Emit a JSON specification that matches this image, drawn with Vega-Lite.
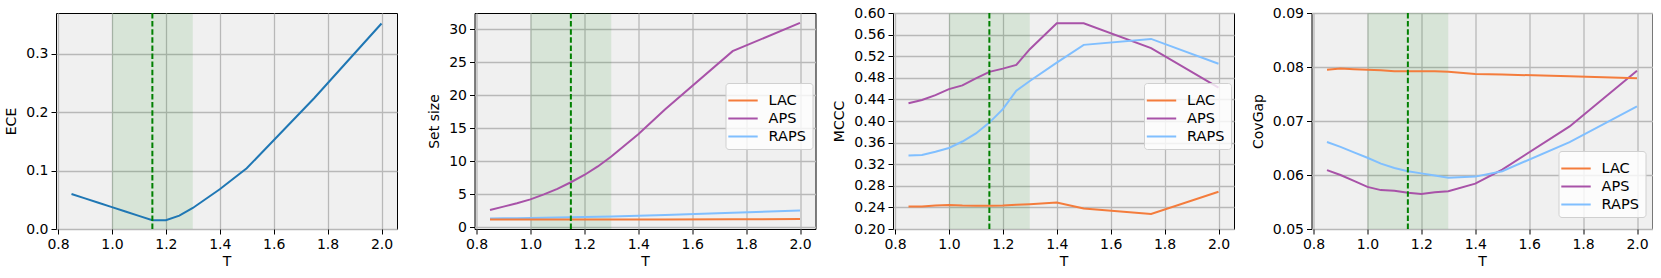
{
  "$schema": "https://vega.github.io/schema/vega-lite/v6.json",
  "padding": {"left": 4, "top": 5, "right": 0, "bottom": 0},
  "background": "white",
  "bounds": "flush",
  "spacing": 77.5,
  "config": {
    "font": "DejaVu Sans",
    "view": {"fill": "#f0f0f0", "stroke": "black", "strokeWidth": 1},
    "axis": {
      "labelFont": "DejaVu Sans", "titleFont": "DejaVu Sans",
      "labelFontSize": 14, "titleFontSize": 14, "titleFontWeight": "normal",
      "labelColor": "black", "titleColor": "black",
      "tickColor": "black", "tickSize": 5, "tickWidth": 1,
      "domainColor": "black", "domainWidth": 1,
      "gridColor": "#b8b8b8", "gridWidth": 1.3,
      "labelPadding": 3
    },
    "axisX": {"titlePadding": 3},
    "axisY": {"titlePadding": 7},
    "legend": {
      "orient": "none", "title": null,
      "labelFont": "DejaVu Sans", "labelFontSize": 14.5, "labelColor": "black",
      "fillColor": "rgba(255,255,255,0.8)", "strokeColor": "#d0d0d0", "cornerRadius": 3,
      "padding": 6, "symbolType": "M-1.4,0H1.4", "symbolSize": 441, "symbolStrokeWidth": 2,
      "labelOffset": 14, "rowPadding": 0
    }
  },
  "datasets": {
    "band": [{"x1": 1.0, "x2": 1.3}],
    "opt": [{"T": 1.15}],
    "ece": [
      {"T": 0.85, "value": 0.060}, {"T": 0.9, "value": 0.0525}, {"T": 0.95, "value": 0.045},
      {"T": 1.0, "value": 0.0375}, {"T": 1.05, "value": 0.030}, {"T": 1.1, "value": 0.0225},
      {"T": 1.15, "value": 0.015}, {"T": 1.2, "value": 0.015}, {"T": 1.25, "value": 0.023},
      {"T": 1.3, "value": 0.036}, {"T": 1.4, "value": 0.068}, {"T": 1.5, "value": 0.104},
      {"T": 1.75, "value": 0.224}, {"T": 2.0, "value": 0.352}
    ],
    "setsize": [
      {"T": 0.85, "method": "APS", "value": 2.58}, {"T": 0.9, "method": "APS", "value": 3.1},
      {"T": 0.95, "method": "APS", "value": 3.6}, {"T": 1.0, "method": "APS", "value": 4.2},
      {"T": 1.05, "method": "APS", "value": 4.95}, {"T": 1.1, "method": "APS", "value": 5.8},
      {"T": 1.15, "method": "APS", "value": 6.8}, {"T": 1.2, "method": "APS", "value": 7.9},
      {"T": 1.25, "method": "APS", "value": 9.2}, {"T": 1.3, "method": "APS", "value": 10.7},
      {"T": 1.4, "method": "APS", "value": 14.1}, {"T": 1.5, "method": "APS", "value": 17.9},
      {"T": 1.75, "method": "APS", "value": 26.7}, {"T": 2.0, "method": "APS", "value": 31.0},
      {"T": 0.85, "method": "RAPS", "value": 1.3}, {"T": 0.9, "method": "RAPS", "value": 1.33},
      {"T": 0.95, "method": "RAPS", "value": 1.35}, {"T": 1.0, "method": "RAPS", "value": 1.38},
      {"T": 1.05, "method": "RAPS", "value": 1.41}, {"T": 1.1, "method": "RAPS", "value": 1.45},
      {"T": 1.15, "method": "RAPS", "value": 1.48}, {"T": 1.2, "method": "RAPS", "value": 1.52},
      {"T": 1.25, "method": "RAPS", "value": 1.56}, {"T": 1.3, "method": "RAPS", "value": 1.6},
      {"T": 1.4, "method": "RAPS", "value": 1.7}, {"T": 1.5, "method": "RAPS", "value": 1.82},
      {"T": 1.75, "method": "RAPS", "value": 2.15}, {"T": 2.0, "method": "RAPS", "value": 2.52},
      {"T": 0.85, "method": "LAC", "value": 1.15}, {"T": 0.9, "method": "LAC", "value": 1.15},
      {"T": 0.95, "method": "LAC", "value": 1.15}, {"T": 1.0, "method": "LAC", "value": 1.15},
      {"T": 1.05, "method": "LAC", "value": 1.15}, {"T": 1.1, "method": "LAC", "value": 1.15},
      {"T": 1.15, "method": "LAC", "value": 1.15}, {"T": 1.2, "method": "LAC", "value": 1.15},
      {"T": 1.25, "method": "LAC", "value": 1.15}, {"T": 1.3, "method": "LAC", "value": 1.15},
      {"T": 1.4, "method": "LAC", "value": 1.16}, {"T": 1.5, "method": "LAC", "value": 1.16},
      {"T": 1.75, "method": "LAC", "value": 1.18}, {"T": 2.0, "method": "LAC", "value": 1.2}
    ],
    "mccc": [
      {"T": 0.85, "method": "APS", "value": 0.433}, {"T": 0.9, "method": "APS", "value": 0.439},
      {"T": 0.95, "method": "APS", "value": 0.448}, {"T": 1.0, "method": "APS", "value": 0.459},
      {"T": 1.05, "method": "APS", "value": 0.466}, {"T": 1.1, "method": "APS", "value": 0.479},
      {"T": 1.15, "method": "APS", "value": 0.491}, {"T": 1.2, "method": "APS", "value": 0.497},
      {"T": 1.25, "method": "APS", "value": 0.504}, {"T": 1.3, "method": "APS", "value": 0.533},
      {"T": 1.4, "method": "APS", "value": 0.581}, {"T": 1.5, "method": "APS", "value": 0.581},
      {"T": 1.75, "method": "APS", "value": 0.535}, {"T": 2.0, "method": "APS", "value": 0.462},
      {"T": 0.85, "method": "RAPS", "value": 0.336}, {"T": 0.9, "method": "RAPS", "value": 0.337},
      {"T": 0.95, "method": "RAPS", "value": 0.343}, {"T": 1.0, "method": "RAPS", "value": 0.350},
      {"T": 1.05, "method": "RAPS", "value": 0.362}, {"T": 1.1, "method": "RAPS", "value": 0.377},
      {"T": 1.15, "method": "RAPS", "value": 0.397}, {"T": 1.2, "method": "RAPS", "value": 0.422},
      {"T": 1.25, "method": "RAPS", "value": 0.456}, {"T": 1.3, "method": "RAPS", "value": 0.474},
      {"T": 1.4, "method": "RAPS", "value": 0.508}, {"T": 1.5, "method": "RAPS", "value": 0.541},
      {"T": 1.75, "method": "RAPS", "value": 0.552}, {"T": 2.0, "method": "RAPS", "value": 0.506},
      {"T": 0.85, "method": "LAC", "value": 0.2415}, {"T": 0.9, "method": "LAC", "value": 0.2415},
      {"T": 0.95, "method": "LAC", "value": 0.2435}, {"T": 1.0, "method": "LAC", "value": 0.2446},
      {"T": 1.05, "method": "LAC", "value": 0.2435}, {"T": 1.1, "method": "LAC", "value": 0.243},
      {"T": 1.15, "method": "LAC", "value": 0.243}, {"T": 1.2, "method": "LAC", "value": 0.2435},
      {"T": 1.25, "method": "LAC", "value": 0.245}, {"T": 1.3, "method": "LAC", "value": 0.246},
      {"T": 1.4, "method": "LAC", "value": 0.249}, {"T": 1.5, "method": "LAC", "value": 0.238},
      {"T": 1.75, "method": "LAC", "value": 0.228}, {"T": 2.0, "method": "LAC", "value": 0.269}
    ],
    "covgap": [
      {"T": 0.85, "method": "APS", "value": 0.0609}, {"T": 0.9, "method": "APS", "value": 0.0600},
      {"T": 0.95, "method": "APS", "value": 0.0589}, {"T": 1.0, "method": "APS", "value": 0.0578},
      {"T": 1.05, "method": "APS", "value": 0.0572}, {"T": 1.1, "method": "APS", "value": 0.0571},
      {"T": 1.15, "method": "APS", "value": 0.0567}, {"T": 1.2, "method": "APS", "value": 0.0565},
      {"T": 1.25, "method": "APS", "value": 0.0568}, {"T": 1.3, "method": "APS", "value": 0.0570},
      {"T": 1.4, "method": "APS", "value": 0.0584}, {"T": 1.5, "method": "APS", "value": 0.0610},
      {"T": 1.75, "method": "APS", "value": 0.0690}, {"T": 2.0, "method": "APS", "value": 0.0793},
      {"T": 0.85, "method": "RAPS", "value": 0.0661}, {"T": 0.9, "method": "RAPS", "value": 0.0652},
      {"T": 0.95, "method": "RAPS", "value": 0.0642}, {"T": 1.0, "method": "RAPS", "value": 0.0632},
      {"T": 1.05, "method": "RAPS", "value": 0.0621}, {"T": 1.1, "method": "RAPS", "value": 0.0613},
      {"T": 1.15, "method": "RAPS", "value": 0.0607}, {"T": 1.2, "method": "RAPS", "value": 0.0603},
      {"T": 1.25, "method": "RAPS", "value": 0.0599}, {"T": 1.3, "method": "RAPS", "value": 0.0595},
      {"T": 1.4, "method": "RAPS", "value": 0.0597}, {"T": 1.5, "method": "RAPS", "value": 0.0607},
      {"T": 1.75, "method": "RAPS", "value": 0.0661}, {"T": 2.0, "method": "RAPS", "value": 0.0727},
      {"T": 0.85, "method": "LAC", "value": 0.0795}, {"T": 0.9, "method": "LAC", "value": 0.0797},
      {"T": 0.95, "method": "LAC", "value": 0.0796}, {"T": 1.0, "method": "LAC", "value": 0.0795},
      {"T": 1.05, "method": "LAC", "value": 0.0794}, {"T": 1.1, "method": "LAC", "value": 0.0792},
      {"T": 1.15, "method": "LAC", "value": 0.0792}, {"T": 1.2, "method": "LAC", "value": 0.0792},
      {"T": 1.25, "method": "LAC", "value": 0.0792}, {"T": 1.3, "method": "LAC", "value": 0.0791},
      {"T": 1.4, "method": "LAC", "value": 0.0787}, {"T": 1.5, "method": "LAC", "value": 0.0786},
      {"T": 1.75, "method": "LAC", "value": 0.0783}, {"T": 2.0, "method": "LAC", "value": 0.0779}
    ]
  },
  "resolve": {"scale": {"x": "independent", "y": "independent", "color": "independent"}, "legend": {"color": "independent"}},
  "hconcat": [
    {
      "width": 341, "height": 216,
      "layer": [
        {
          "data": {"name": "band"},
          "mark": {"type": "rect", "color": "#008000", "opacity": 0.1},
          "encoding": {
            "x": {"field": "x1", "type": "quantitative", "scale": {"domain": [0.7925, 2.0575], "nice": false, "zero": false}, "axis": {"values": [0.8, 1.0, 1.2, 1.4, 1.6, 1.8, 2.0], "format": ".1f", "title": "T", "domain": false}},
            "x2": {"field": "x2"}
          }
        },
        {
          "data": {"name": "ece"},
          "mark": {"type": "line", "color": "#1f77b4", "strokeWidth": 2},
          "encoding": {
            "x": {"field": "T", "type": "quantitative", "scale": {"domain": [0.7925, 2.0575], "nice": false, "zero": false}},
            "y": {"field": "value", "type": "quantitative", "scale": {"domain": [0, 0.37], "nice": false, "zero": false}, "axis": {"values": [0, 0.1, 0.2, 0.3], "format": ".1f", "title": "ECE", "domain": false}}
          }
        },
        {
          "data": {"name": "opt"},
          "mark": {"type": "rule", "color": "#008000", "strokeWidth": 2, "strokeDash": [5.5, 2.6]},
          "encoding": {"x": {"field": "T", "type": "quantitative"}}
        }
      ]
    },
    {
      "width": 341, "height": 216,
      "layer": [
        {
          "data": {"name": "band"},
          "mark": {"type": "rect", "color": "#008000", "opacity": 0.1},
          "encoding": {
            "x": {"field": "x1", "type": "quantitative", "scale": {"domain": [0.7925, 2.0575], "nice": false, "zero": false}, "axis": {"values": [0.8, 1.0, 1.2, 1.4, 1.6, 1.8, 2.0], "format": ".1f", "title": "T", "domain": false}},
            "x2": {"field": "x2"}
          }
        },
        {
          "data": {"name": "setsize"},
          "mark": {"type": "line", "strokeWidth": 2},
          "encoding": {
            "x": {"field": "T", "type": "quantitative", "scale": {"domain": [0.7925, 2.0575], "nice": false, "zero": false}},
            "y": {"field": "value", "type": "quantitative", "scale": {"domain": [-0.3, 32.5], "nice": false, "zero": false}, "axis": {"values": [0, 5, 10, 15, 20, 25, 30], "format": "d", "title": "Set size", "domain": false}},
            "color": {"field": "method", "type": "nominal", "scale": {"domain": ["LAC", "APS", "RAPS"], "range": ["#f47c3c", "#a852a8", "#80bfff"]}, "legend": {"legendX": 251, "legendY": 70}}
          }
        },
        {
          "data": {"name": "opt"},
          "mark": {"type": "rule", "color": "#008000", "strokeWidth": 2, "strokeDash": [5.5, 2.6]},
          "encoding": {"x": {"field": "T", "type": "quantitative"}}
        }
      ]
    },
    {
      "width": 341, "height": 216,
      "layer": [
        {
          "data": {"name": "band"},
          "mark": {"type": "rect", "color": "#008000", "opacity": 0.1},
          "encoding": {
            "x": {"field": "x1", "type": "quantitative", "scale": {"domain": [0.7925, 2.0575], "nice": false, "zero": false}, "axis": {"values": [0.8, 1.0, 1.2, 1.4, 1.6, 1.8, 2.0], "format": ".1f", "title": "T", "domain": false}},
            "x2": {"field": "x2"}
          }
        },
        {
          "data": {"name": "mccc"},
          "mark": {"type": "line", "strokeWidth": 2},
          "encoding": {
            "x": {"field": "T", "type": "quantitative", "scale": {"domain": [0.7925, 2.0575], "nice": false, "zero": false}},
            "y": {"field": "value", "type": "quantitative", "scale": {"domain": [0.2, 0.6], "nice": false, "zero": false}, "axis": {"values": [0.2, 0.24, 0.28, 0.32, 0.36, 0.4, 0.44, 0.48, 0.52, 0.56, 0.6], "format": ".2f", "title": "MCCC", "domain": false}},
            "color": {"field": "method", "type": "nominal", "scale": {"domain": ["LAC", "APS", "RAPS"], "range": ["#f47c3c", "#a852a8", "#80bfff"]}, "legend": {"legendX": 251, "legendY": 70}}
          }
        },
        {
          "data": {"name": "opt"},
          "mark": {"type": "rule", "color": "#008000", "strokeWidth": 2, "strokeDash": [5.5, 2.6]},
          "encoding": {"x": {"field": "T", "type": "quantitative"}}
        }
      ]
    },
    {
      "width": 341, "height": 216,
      "layer": [
        {
          "data": {"name": "band"},
          "mark": {"type": "rect", "color": "#008000", "opacity": 0.1},
          "encoding": {
            "x": {"field": "x1", "type": "quantitative", "scale": {"domain": [0.7925, 2.0575], "nice": false, "zero": false}, "axis": {"values": [0.8, 1.0, 1.2, 1.4, 1.6, 1.8, 2.0], "format": ".1f", "title": "T", "domain": false}},
            "x2": {"field": "x2"}
          }
        },
        {
          "data": {"name": "covgap"},
          "mark": {"type": "line", "strokeWidth": 2},
          "encoding": {
            "x": {"field": "T", "type": "quantitative", "scale": {"domain": [0.7925, 2.0575], "nice": false, "zero": false}},
            "y": {"field": "value", "type": "quantitative", "scale": {"domain": [0.05, 0.09], "nice": false, "zero": false}, "axis": {"values": [0.05, 0.06, 0.07, 0.08, 0.09], "format": ".2f", "title": "CovGap", "domain": false}},
            "color": {"field": "method", "type": "nominal", "scale": {"domain": ["LAC", "APS", "RAPS"], "range": ["#f47c3c", "#a852a8", "#80bfff"]}, "legend": {"legendX": 247, "legendY": 138}}
          }
        },
        {
          "data": {"name": "opt"},
          "mark": {"type": "rule", "color": "#008000", "strokeWidth": 2, "strokeDash": [5.5, 2.6]},
          "encoding": {"x": {"field": "T", "type": "quantitative"}}
        }
      ]
    }
  ]
}
